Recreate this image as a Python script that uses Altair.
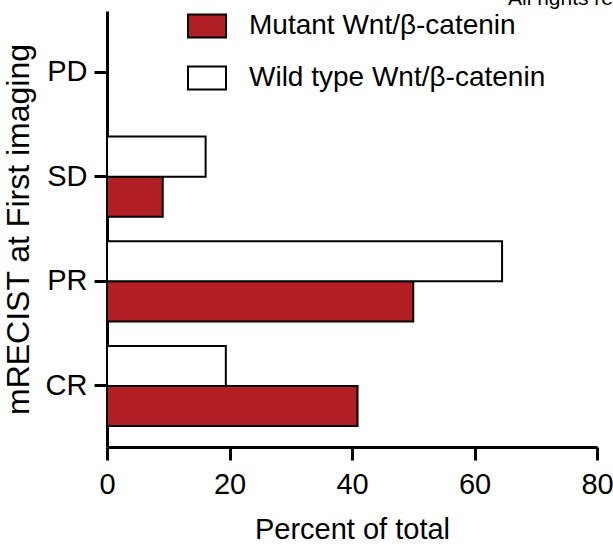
import altair as alt
import pandas as pd

# Response category (mRECIST) at first imaging, top to bottom
categories = ["PD", "SD", "PR", "CR"]
groups = ["Mutant Wnt/β-catenin", "Wild type Wnt/β-catenin"]

# Percent of total within each group
mutant_pct = [0.0, 9.1, 50.0, 40.9]
wild_pct = [0.0, 16.1, 64.5, 19.4]

x_ticks = [0, 20, 40, 60, 80]
note = ["All rights reserved."]

rows = []
for cat, m, w in zip(categories, mutant_pct, wild_pct):
    rows.append({"response": cat, "group": groups[0], "pct": m})
    rows.append({"response": cat, "group": groups[1], "pct": w})
df = pd.DataFrame(rows)

FONT = "Liberation Sans"
RED = "#B11F24"

bars = alt.Chart(df).mark_bar(stroke="black", strokeWidth=2).encode(
    x=alt.X(
        "pct:Q",
        scale=alt.Scale(domain=[0, 80], nice=False),
        axis=alt.Axis(
            values=x_ticks,
            title="Percent of total",
            titleFontSize=29,
            titleFontWeight="normal",
            titlePadding=16,
            labelFontSize=29,
            labelPadding=10,
            labelFlush=False,
            labelOverlap=False,
            tickSize=13,
            tickWidth=3,
            domainWidth=3,
            grid=False,
        ),
    ),
    y=alt.Y(
        "response:N",
        sort=categories,
        scale=alt.Scale(paddingInner=0.234, paddingOuter=0.2),
        axis=alt.Axis(
            title="mRECIST at First imaging",
            titleFontSize=32,
            titleFontWeight="normal",
            titlePadding=10,
            labelFontSize=29,
            labelPadding=7,
            tickSize=13,
            tickWidth=3,
            domainWidth=3,
        ),
    ),
    yOffset=alt.YOffset("group:N", scale=alt.Scale(domain=[groups[1], groups[0]], paddingInner=0)),
    fill=alt.Fill(
        "group:N",
        scale=alt.Scale(domain=groups, range=[RED, "white"]),
        legend=alt.Legend(
            title=None,
            orient="none",
            legendX=80,
            legendY=-5,
            padding=0,
            symbolType="M-1,-0.6L1,-0.6L1,0.6L-1,0.6Z",
            symbolSize=1444,
            symbolStrokeColor="black",
            symbolStrokeWidth=2,
            labelFontSize=28,
            labelOffset=22,
            rowPadding=16,
            labelLimit=0,
        ),
    ),
)

rights = alt.Chart(pd.DataFrame({"t": note})).mark_text(
    align="left", baseline="alphabetic", fontSize=21, font=FONT, color="black"
).encode(text="t:N", x=alt.value(401), y=alt.value(-6))

chart = (
    alt.layer(bars, rights)
    .properties(
        width=490,
        height=436,
        autosize=alt.AutoSizeParams(type="none"),
        padding={"left": 107, "top": 11, "right": 16, "bottom": 103},
    )
    .configure(font=FONT)
    .configure_view(stroke=None)
    .configure_axis(domainColor="black", tickColor="black", labelColor="black", titleColor="black")
    .configure_legend(labelColor="black")
)

chart.save("out.html", embed_options={"renderer": "svg", "actions": False})
